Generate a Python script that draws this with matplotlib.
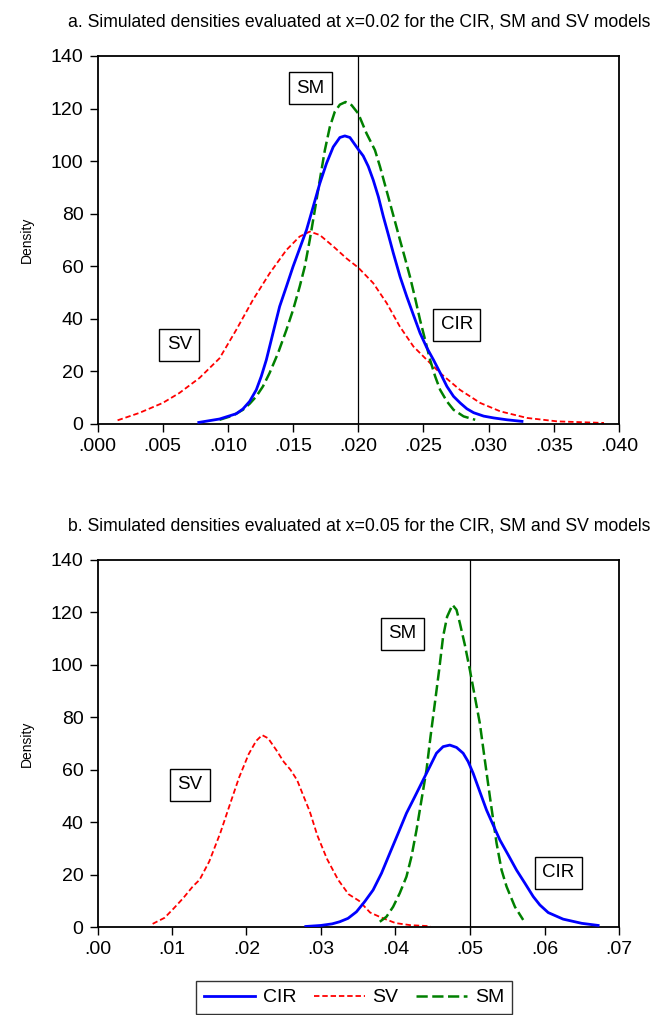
import matplotlib
matplotlib.use("Agg")
import matplotlib.pyplot as plt
from matplotlib.ticker import FixedLocator

plt.rcParams['font.family'] = ['Liberation Sans', 'DejaVu Sans']

# ---------------- Panel a data (x = rate, y = density) ----------------
a_cir_x = [0.00777, 0.00936, 0.01064, 0.01115, 0.01167, 0.01218, 0.01256, 0.01295, 0.01346, 0.01397,
           0.01449, 0.0150, 0.01551, 0.01603, 0.01654, 0.01705, 0.01756, 0.01808, 0.01859, 0.01897,
           0.01936, 0.0200, 0.02038, 0.02077, 0.02115, 0.02154, 0.02192, 0.02231, 0.02269, 0.02321,
           0.02372, 0.02423, 0.02474, 0.02526, 0.02577, 0.02628, 0.0268, 0.02731, 0.02782, 0.02833,
           0.02885, 0.02962, 0.0304, 0.03141, 0.03256]
a_cir_y = [0.6, 1.9, 3.9, 5.7, 8.6, 13.0, 18.1, 24.4, 34.6, 44.7,
           52.3, 59.9, 66.8, 73.8, 82.6, 91.5, 99.1, 105.4, 109.0, 109.6,
           109.0, 104.5, 102.0, 98.0, 92.8, 86.5, 79.0, 72.0, 65.0, 56.0,
           48.5, 41.5, 34.6, 29.0, 24.4, 19.5, 14.3, 10.5, 8.0, 5.8,
           4.3, 3.0, 2.3, 1.6, 1.0]

a_sm_x = [0.00936, 0.01038, 0.01115, 0.01167, 0.01218, 0.01269, 0.0132, 0.01385, 0.01449, 0.0150,
          0.01551, 0.0159, 0.01628, 0.01667, 0.01705, 0.01744, 0.01782, 0.0182, 0.01859, 0.01903,
          0.01949, 0.0200, 0.02064, 0.02128, 0.02167, 0.02205, 0.02244, 0.02282, 0.0232, 0.02359,
          0.02397, 0.02436, 0.02474, 0.02513, 0.02551, 0.0259, 0.02628, 0.0268, 0.02731, 0.02808,
          0.02897]
a_sm_y = [1.6, 3.2, 5.4, 7.7, 10.5, 14.3, 19.4, 27.0, 35.8, 43.4,
          52.3, 59.9, 70.0, 81.4, 92.8, 104.2, 113.0, 118.8, 121.5, 122.5,
          121.3, 118.1, 110.5, 104.2, 97.9, 91.0, 83.9, 77.0, 70.0, 63.0,
          56.0, 47.9, 39.6, 32.0, 24.4, 18.1, 13.0, 8.6, 5.4, 2.9,
          1.6]

a_sv_x = [0.00154, 0.0032, 0.0050, 0.00628, 0.00782, 0.00936, 0.01064, 0.01192, 0.0132, 0.01449,
          0.0155, 0.01628, 0.01705, 0.0181, 0.0191, 0.0200, 0.02115, 0.02218, 0.0232, 0.02423,
          0.02526, 0.02628, 0.0278, 0.02936, 0.0309, 0.03295, 0.03526, 0.03885]
a_sv_y = [1.4, 4.2, 8.0, 11.8, 17.5, 25.0, 35.8, 47.2, 57.3, 66.2,
          71.3, 73.2, 71.9, 67.5, 63.0, 59.5, 53.6, 46.0, 37.0, 29.5,
          24.4, 19.4, 13.0, 8.0, 4.8, 2.3, 1.0, 0.4]

# ---------------- Panel b data ----------------
b_cir_x = [0.02796, 0.0300, 0.0315, 0.03251, 0.03363, 0.03476, 0.03587, 0.03699, 0.03812, 0.03923,
           0.04035, 0.04147, 0.04259, 0.04371, 0.04461, 0.0455, 0.04639, 0.04729, 0.04819, 0.04908,
           0.04975, 0.05043, 0.05132, 0.05222, 0.05311, 0.05401, 0.05513, 0.05625, 0.05737, 0.05849,
           0.05938, 0.0605, 0.0625, 0.0650, 0.0672]
b_cir_y = [0.2, 0.6, 1.2, 2.0, 3.3, 5.8, 9.7, 14.1, 20.5, 28.1,
           35.7, 43.4, 49.7, 56.1, 61.2, 66.3, 68.8, 69.4, 68.5, 66.3,
           63.1, 58.6, 51.6, 44.6, 38.9, 33.2, 27.5, 21.7, 16.7, 11.6,
           8.4, 5.5, 3.0, 1.4, 0.6]

b_sm_x = [0.03789, 0.03878, 0.03968, 0.04057, 0.04147, 0.04214, 0.04282, 0.04349, 0.04416, 0.0447,
          0.04528, 0.04586, 0.04639, 0.04693, 0.04765, 0.04819, 0.04864, 0.04931, 0.04998, 0.05065,
          0.05132, 0.05199, 0.05267, 0.05357, 0.05424, 0.05491, 0.05603, 0.05714]
b_sm_y = [2.0, 3.9, 7.7, 12.9, 19.2, 26.8, 37.0, 48.5, 59.9, 72.6,
          85.3, 98.1, 110.8, 118.4, 122.9, 121.0, 115.9, 107.6, 98.1, 87.9,
          77.7, 63.7, 49.7, 31.9, 21.7, 15.4, 7.7, 2.7]

b_sv_x = [0.0074, 0.0090, 0.0102, 0.0115, 0.0128, 0.0137, 0.0150, 0.0165, 0.0178, 0.0190,
          0.0203, 0.0213, 0.0221, 0.0229, 0.0240, 0.0250, 0.0259, 0.0268, 0.0275, 0.0285,
          0.0295, 0.0308, 0.0323, 0.0337, 0.0351, 0.0366, 0.0381, 0.0400, 0.0420, 0.0447]
b_sv_y = [1.2, 3.5, 7.0, 11.0, 15.5, 18.0, 25.0, 36.0, 47.0, 57.0,
          66.0, 71.0, 73.2, 72.0, 67.5, 63.0, 60.0, 56.0, 51.0, 44.0,
          35.0, 26.0, 18.0, 12.5, 10.0, 5.5, 3.6, 1.5, 0.7, 0.3]

# ---------------- Axis ticks and labels ----------------
yticks = [0, 20, 40, 60, 80, 100, 120, 140]
a_xticks = [0.000, 0.005, 0.010, 0.015, 0.020, 0.025, 0.030, 0.035, 0.040]
a_xlabels = [".000", ".005", ".010", ".015", ".020", ".025", ".030", ".035", ".040"]
b_xticks = [0.00, 0.01, 0.02, 0.03, 0.04, 0.05, 0.06, 0.07]
b_xlabels = [".00", ".01", ".02", ".03", ".04", ".05", ".06", ".07"]

a_title = "a. Simulated densities evaluated at x=0.02 for the CIR, SM and SV models"
b_title = "b. Simulated densities evaluated at x=0.05 for the CIR, SM and SV models"
a_vline = 0.02
b_vline = 0.05

# annotation boxes (label, x, y)
a_boxes = [("SM", 0.01632, 127.8), ("SV", 0.00628, 30.2), ("CIR", 0.02755, 37.7)]
b_boxes = [("SM", 0.04095, 111.8), ("SV", 0.01236, 54.2), ("CIR", 0.06187, 20.6)]

BLUE = "#0000ff"
RED = "#ff0000"
GREEN = "#008000"

W, H = 654, 1015
fig = plt.figure(figsize=(W / 100, H / 100), dpi=100)

def px_axes(left, top, right, bottom):
    return fig.add_axes([left / W, 1 - bottom / H, (right - left) / W, (bottom - top) / H])

ax1 = px_axes(97.5, 56, 619, 424)
ax2 = px_axes(97.5, 560, 619, 927)

def style(ax, xticks, xlabels, xlim):
    ax.set_xlim(*xlim)
    ax.set_ylim(0, 140)
    ax.xaxis.set_major_locator(FixedLocator(xticks))
    ax.set_xticklabels(xlabels)
    ax.yaxis.set_major_locator(FixedLocator(yticks))
    ax.set_yticklabels([str(v) for v in yticks])
    ax.tick_params(axis='both', direction='out', length=6, width=1, labelsize=14,
                   colors='black', pad=4)
    ax.tick_params(top=False, right=False)
    for s in ax.spines.values():
        s.set_linewidth(1.3)
        s.set_color('black')
    ax.set_ylabel("Density", fontsize=10, labelpad=12)

def draw(ax, cx, cy, sx, sy, mx, my, vline, boxes):
    ax.axvline(vline, color='black', lw=0.9, zorder=1)
    ax.plot(cx, cy, color=BLUE, lw=2.0, label='CIR', zorder=3)
    ax.plot(sx, sy, color=RED, lw=1.3, dashes=(3.0, 1.6), label='SV', zorder=2)
    ax.plot(mx, my, color=GREEN, lw=1.8, dashes=(4.5, 1.8), label='SM', zorder=2)
    for lab, x, y in boxes:
        ax.text(x, y, lab, ha='center', va='center', fontsize=13.5,
                bbox=dict(boxstyle='square,pad=0.4', fc='white', ec='black', lw=1.0),
                zorder=4)

draw(ax1, a_cir_x, a_cir_y, a_sv_x, a_sv_y, a_sm_x, a_sm_y, a_vline, a_boxes)
style(ax1, a_xticks, a_xlabels, (0.0, 0.04))
draw(ax2, b_cir_x, b_cir_y, b_sv_x, b_sv_y, b_sm_x, b_sm_y, b_vline, b_boxes)
style(ax2, b_xticks, b_xlabels, (0.0, 0.07))

fig.text(359 / W, 1 - 22 / H, a_title, ha='center', va='center', fontsize=12.7)
fig.text(359 / W, 1 - 526 / H, b_title, ha='center', va='center', fontsize=12.7)

handles, labels = ax2.get_legend_handles_labels()
leg = fig.legend(handles, labels, loc='upper left', bbox_to_anchor=(196 / W, 1 - 981 / H),
                 ncol=3, fontsize=14, frameon=True, fancybox=False, handlelength=2.63,
                 columnspacing=0.88, handletextpad=0.41, borderpad=0.4, borderaxespad=0.0)
leg.get_frame().set_edgecolor('black')
leg.get_frame().set_linewidth(1.0)

fig.savefig("out.png", dpi=100)
